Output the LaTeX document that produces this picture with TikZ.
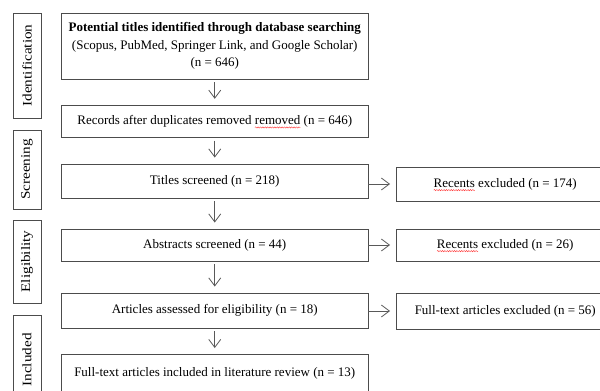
\documentclass[tikz,border=0pt]{standalone}
\usepackage{fontspec}
\usepackage{graphicx}
\setmainfont{Liberation Serif}
\usetikzlibrary{arrows.meta,decorations.pathmorphing}
\newcommand\redwave[1]{\setbox0\hbox{#1}\rlap{\tikz[overlay,x=1pt,y=1pt]\draw[red!75, line width=0.45pt, decorate, decoration={snake,amplitude=0.6pt,segment length=2.4pt}] (0,-3) -- (\the\wd0,-3);}\box0\relax}
\newcommand\wide[2]{\scalebox{#1}[1]{#2}}
\begin{document}
\begin{tikzpicture}[x=1pt,y=-1pt,
  box/.style={draw=black!70, line width=0.9pt, inner sep=0pt, align=center,
    font=\fontsize{13}{17.5}\selectfont},
  mainbox/.style={box, minimum width=306.5pt},
  rightbox/.style={box, minimum width=217.5pt},
  sidebox/.style={box, rotate=90, minimum height=28pt},
  arr/.style={draw=black!65, line width=0.8pt, -{Straight Barb[length=8pt,width=12pt]}}]
\useasboundingbox (0,0) rectangle (600,391);
\clip (0,0) rectangle (600,391);
% side labels
\node[sidebox, minimum width=105pt] (sid) at (27,65.5) {\wide{1.17}{Identification}};
\node[sidebox, minimum width=79pt] (sscr) at (27,169.5) {\wide{1.17}{Screening}};
\node[sidebox, minimum width=83pt] (selig) at (27,261.5) {\wide{1.17}{Eligibility}};
\node[sidebox, minimum width=90pt] (sinc) at (27,360) {\wide{1.17}{Included}};
% main column
\node[mainbox, minimum height=65.5pt] (b1) at (214.75,46.25)
  {\textbf{Potential titles identified through database searching}\\(Scopus, PubMed, Springer Link, and Google Scholar)\\(n = 646)};
\node[mainbox, minimum height=32pt] (b2) at (214.75,121.25)
  {Records after duplicates removed \redwave{removed} (n = 646)};
\node[mainbox, minimum height=34pt] (b3) at (214.75,181) {Titles screened (n = 218)};
\node[mainbox, minimum height=32pt] (b4) at (214.75,245) {Abstracts screened (n = 44)};
\node[mainbox, minimum height=35pt] (b5) at (214.75,310.5) {Articles assessed for eligibility (n = 18)};
\node[mainbox, minimum height=37pt] (b6) at (214.75,373) {Full-text articles included in literature review (n = 13)};
% right column
\node[rightbox, minimum height=34pt] (r1) at (505.25,184) {\redwave{Recents} excluded (n = 174)};
\node[rightbox, minimum height=32pt] (r2) at (505.25,245) {\redwave{Recents} excluded (n = 26)};
\node[rightbox, minimum height=36pt] (r3) at (505.25,311) {Full-text articles excluded (n = 56)};
% arrows
\foreach \a/\b in {b1/b2,b2/b3,b3/b4,b4/b5,b5/b6}
  \draw[arr, shorten <=3pt, shorten >=6pt] (\a.south) -- (\b.north);
\foreach \a/\b in {b3/r1,b4/r2,b5/r3}
  \draw[arr, shorten >=6pt] (\b.west -| \a.east) -- (\b.west);
\end{tikzpicture}
\end{document}
